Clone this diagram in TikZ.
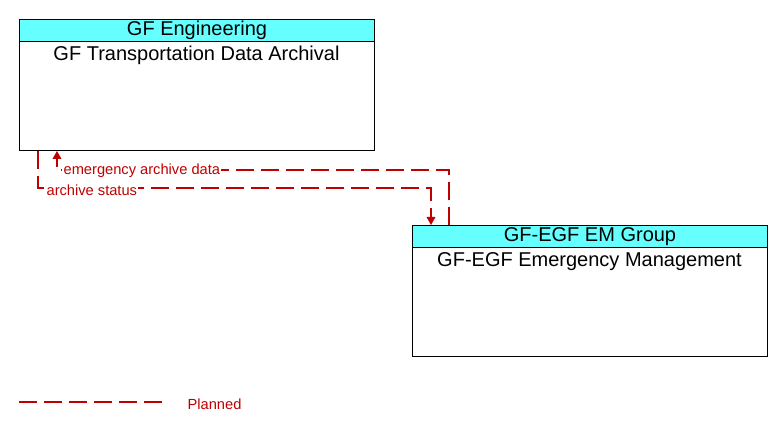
\documentclass[tikz,border=0pt]{standalone}
\usepackage{fontspec}
\setmainfont{Liberation Sans}
\usetikzlibrary{calc,arrows.meta}
\definecolor{flowred}{RGB}{192,0,0}
\definecolor{headcyan}{RGB}{102,255,255}
\tikzset{
	box/.style={draw=black, line width=0.75pt, anchor=north west, minimum width=266.25pt, minimum height=98.25pt},
	boxhead/.style={draw=black, fill=headcyan, line width=0.75pt, anchor=north west, minimum width=266.25pt, minimum height=16.5pt, inner sep=0pt, font=\fontsize{15}{17}\selectfont},
	boxtitle/.style={inner sep=0pt, font=\fontsize{15}{17}\selectfont},
	flow/.style={draw=flowred, line width=0.9pt, dash pattern=on 13.5pt off 5.25pt},
	flowtip/.style={-{Triangle[length=6pt,width=6.5pt]}},
	flowlabel/.style={fill=white, text=flowred, anchor=west, inner sep=1pt, font=\fontsize{11}{13}\selectfont}
}
\begin{document}
\begin{tikzpicture}[x=0.75pt, y=-0.75pt]
		%%%%% START %%%%%
		\useasboundingbox (0, 0) rectangle (783, 431);
		
		\node[box] (archive) at (19, 19) {};
		\node[boxhead] (archivehead) at (19, 19) {GF Engineering};
		\node[boxtitle] (archivetitle) at (196.5, 55) {GF Transportation Data Archival};
		
		\node[box] (emgroup) at (412, 225) {};
		\node[boxhead] (emgrouphead) at (412, 225) {GF-EGF EM Group};
		\node[boxtitle] (emgrouptitle) at (589.5, 262) {GF-EGF Emergency Management};
		
		\draw[flow, flowtip] ($(emgroup.north west)+(37, 0)$) |- ($(archive.south west)+(38, 19)$) -- ($(archive.south west)+(38, 0)$);
		\node[flowlabel] (emdata) at (62, 171) {emergency archive data};
		
		\draw[flow, flowtip] ($(archive.south west)+(19, 0)$) |- ($(emgroup.north west)+(19, -37)$) -- ($(emgroup.north west)+(19, 0)$);
		\node[flowlabel] (arstatus) at (45, 190) {archive status};
		
		\coordinate (legendA) at (19, 402);
		\coordinate (legendB) at (168, 402);
		\draw[flow] (legendA) -- (legendB);
		\node[flowlabel, fill=none] (planned) at (186, 404) {Planned};
		
		%%%%% END %%%%%
	\end{tikzpicture}
\end{document}
